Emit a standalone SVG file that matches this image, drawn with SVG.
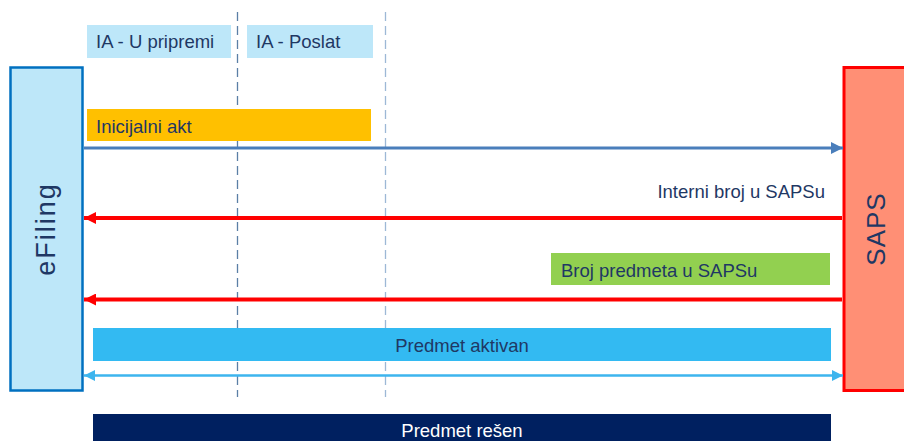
<svg xmlns="http://www.w3.org/2000/svg" width="904" height="441" viewBox="0 0 904 441">
<style>
text{font-family:"Liberation Sans",Arial,sans-serif;fill:#1F3864}
.lbl{font-size:18.5px}
.hdr{fill:#BDE7F9}
.vd{stroke-width:1.3;stroke-dasharray:9,5;fill:none}
</style>
<defs>
<marker id="ab" viewBox="0 0 10 10" refX="10" refY="5" markerWidth="4" markerHeight="4" orient="auto" markerUnits="strokeWidth"><path d="M0,0L10,5L0,10z" fill="#4A7EBB"/></marker>
<marker id="ar" viewBox="0 0 10 10" refX="10" refY="5" markerWidth="3.2" markerHeight="3" orient="auto" markerUnits="strokeWidth"><path d="M0,0L10,5L0,10z" fill="#FF0000"/></marker>
<marker id="al" viewBox="0 0 10 10" refX="10" refY="5" markerWidth="4.5" markerHeight="4.5" orient="auto-start-reverse" markerUnits="strokeWidth"><path d="M0,0L10,5L0,10z" fill="#3DB5EE"/></marker>
</defs>
<rect width="904" height="441" fill="#fff"/>
<g id="lifelines">
<line class="vd" x1="237.5" y1="12" x2="237.5" y2="397" stroke="#5B7FA6"/>
<line class="vd" x1="385.5" y1="12" x2="385.5" y2="397" stroke="#9DB8D6"/>
</g>
<g id="state-u-pripremi"><rect class="hdr" x="87" y="25" width="144" height="33"/><text class="lbl" x="96" y="48">IA - U pripremi</text></g>
<g id="state-poslat"><rect class="hdr" x="247" y="25" width="126" height="33"/><text class="lbl" x="256" y="48">IA - Poslat</text></g>
<g id="efiling"><rect x="10.5" y="67.5" width="72" height="323" fill="#BDE7F9" stroke="#0070C0" stroke-width="2.5"/><text transform="translate(55,229) rotate(-90)" text-anchor="middle" font-size="27" letter-spacing="2">eFiling</text></g>
<g id="saps"><rect x="844" y="67.5" width="64" height="323" fill="#FF8F75" stroke="#FF0000" stroke-width="3"/><text transform="translate(885,229) rotate(-90)" text-anchor="middle" font-size="26" letter-spacing="1">SAPS</text></g>
<g id="msg-inicijalni-akt"><rect x="87" y="109" width="284" height="32" fill="#FFC000"/><text class="lbl" x="96" y="133">Inicijalni akt</text></g>
<g id="msg-interni-broj"><text class="lbl" x="825" y="198" text-anchor="end">Interni broj u SAPSu</text></g>
<g id="msg-broj-predmeta"><rect x="551" y="253" width="279" height="32" fill="#92D050"/><text class="lbl" x="561" y="277">Broj predmeta u SAPSu</text></g>
<g id="msg-predmet-aktivan"><rect x="93" y="328" width="738" height="33" fill="#33BAF2"/><text class="lbl" x="462" y="352" text-anchor="middle">Predmet aktivan</text></g>
<g id="msg-predmet-resen"><rect x="93" y="414" width="738" height="30" fill="#002060"/><text class="lbl" x="462" y="437" text-anchor="middle" style="fill:#fff">Predmet rešen</text></g>
<g id="connectors">
<line x1="84" y1="148" x2="843" y2="148" stroke="#4A7EBB" stroke-width="3" marker-end="url(#ab)"/>
<line x1="842" y1="218" x2="84" y2="218" stroke="#FF0000" stroke-width="4" marker-end="url(#ar)"/>
<line x1="842" y1="299.5" x2="84" y2="299.5" stroke="#FF0000" stroke-width="4" marker-end="url(#ar)"/>
<line x1="84" y1="375.5" x2="843" y2="375.5" stroke="#3DB5EE" stroke-width="2.5" marker-start="url(#al)" marker-end="url(#al)"/>
</g>
</svg>
